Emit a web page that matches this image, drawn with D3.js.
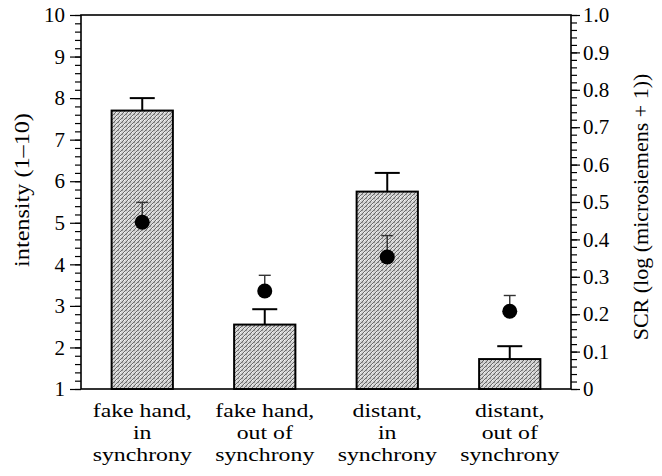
<!DOCTYPE html>
<html>
<head>
<meta charset="utf-8">
<script src="https://cdn.jsdelivr.net/npm/d3@7/dist/d3.min.js"></script>
<style>
  html, body { margin: 0; padding: 0; background: #fff; }
  svg { display: block; }
  text { font-family: "Liberation Serif", "Times New Roman", Times, serif; fill: #000; }
</style>
</head>
<body>
<svg id="chart" width="662" height="476"></svg>
<script>
// ---- data ----
const categories = ["fake hand, in synchrony", "fake hand, out of synchrony", "distant, in synchrony", "distant, out of synchrony"];
const categoryLines = [
  ["fake hand,", "in", "synchrony"],
  ["fake hand,", "out of", "synchrony"],
  ["distant,", "in", "synchrony"],
  ["distant,", "out of", "synchrony"]
];
const intensity = [7.7, 2.55, 5.75, 1.72];
const intensityErr = [0.3, 0.37, 0.45, 0.31];
const scr = [0.446, 0.262, 0.353, 0.208];
const scrErr = [0.053, 0.042, 0.057, 0.042];
const leftTicks = [1, 2, 3, 4, 5, 6, 7, 8, 9, 10];
const rightTicks = [0, 0.1, 0.2, 0.3, 0.4, 0.5, 0.6, 0.7, 0.8, 0.9, 1.0];
const leftTitle = "intensity (1\u201310)";
const rightTitle = "SCR (log (microsiemens + 1))";

// ---- layout ----
const svg = d3.select("#chart");
const L = 81, R = 571, T = 15, B = 389;

const x = d3.scaleBand().domain(categories).range([L, R]).paddingInner(0.5).paddingOuter(0.25);
const yL = d3.scaleLinear().domain([1, 10]).range([B, T]);
const yR = d3.scaleLinear().domain([0, 1]).range([B, T]);

// stippled hatch pattern
const defs = svg.append("defs");
const pat = defs.append("pattern").attr("id", "hatch").attr("patternUnits", "userSpaceOnUse")
  .attr("width", 4).attr("height", 4);
pat.append("rect").attr("width", 4).attr("height", 4).attr("fill", "#d4d4d4");
pat.append("path").attr("d", "M-1,1 L1,-1 M0,4 L4,0 M3,5 L5,3").attr("stroke", "#6a6a6a").attr("stroke-width", 1);
pat.append("rect").attr("x", 0).attr("y", 0).attr("width", 1).attr("height", 1).attr("fill", "#f4f4f4");
pat.append("rect").attr("x", 2).attr("y", 2).attr("width", 1).attr("height", 1).attr("fill", "#9a9a9a");

// minor ticks
const leftMinor = d3.range(1, 10.001, 0.2);
const rightMinor = d3.range(0, 1.0001, 0.02);

const gLm = svg.append("g").attr("transform", `translate(${L},0)`)
  .call(d3.axisLeft(yL).tickValues(leftMinor).tickSize(6).tickSizeOuter(0).tickFormat(""));
const gL = svg.append("g").attr("transform", `translate(${L},0)`)
  .call(d3.axisLeft(yL).tickValues(leftTicks).tickSize(11).tickSizeOuter(0).tickPadding(5));
const gRm = svg.append("g").attr("transform", `translate(${R},0)`)
  .call(d3.axisRight(yR).tickValues(rightMinor).tickSize(6).tickSizeOuter(0).tickFormat(""));
const gR = svg.append("g").attr("transform", `translate(${R},0)`)
  .call(d3.axisRight(yR).tickValues(rightTicks).tickSize(9).tickSizeOuter(0).tickPadding(3)
    .tickFormat(d => d === 0 ? "0" : d3.format(".1f")(d)));

[gLm, gL, gRm, gR].forEach(g => {
  g.attr("font-family", null);
  g.select(".domain").remove();
  g.selectAll(".tick line").attr("stroke", "#000").attr("stroke-width", 1.2);
  g.selectAll("text").attr("font-size", 21).attr("fill", "#000");
});

// bars
svg.append("g").selectAll("rect").data(categories).join("rect")
  .attr("x", d => x(d))
  .attr("y", (d, i) => yL(intensity[i]))
  .attr("width", x.bandwidth())
  .attr("height", (d, i) => yL(1) - yL(intensity[i]))
  .attr("fill", "url(#hatch)")
  .attr("stroke", "#000").attr("stroke-width", 2);

// bar error bars
const be = svg.append("g").attr("stroke", "#000").attr("stroke-width", 2);
categories.forEach((c, i) => {
  const cx = x(c) + x.bandwidth() / 2;
  be.append("line").attr("x1", cx).attr("x2", cx)
    .attr("y1", yL(intensity[i])).attr("y2", yL(intensity[i] + intensityErr[i]));
  be.append("line").attr("x1", cx - 12.5).attr("x2", cx + 12.5)
    .attr("y1", yL(intensity[i] + intensityErr[i])).attr("y2", yL(intensity[i] + intensityErr[i]));
});

// SCR error bars and points
const de = svg.append("g").attr("stroke", "#333").attr("stroke-width", 1.4);
categories.forEach((c, i) => {
  const cx = x(c) + x.bandwidth() / 2;
  de.append("line").attr("x1", cx).attr("x2", cx)
    .attr("y1", yR(scr[i])).attr("y2", yR(scr[i] + scrErr[i]));
  de.append("line").attr("x1", cx - 6).attr("x2", cx + 6)
    .attr("y1", yR(scr[i] + scrErr[i])).attr("y2", yR(scr[i] + scrErr[i]));
});
svg.append("g").selectAll("circle").data(categories).join("circle")
  .attr("cx", d => x(d) + x.bandwidth() / 2)
  .attr("cy", (d, i) => yR(scr[i]))
  .attr("r", 7.5)
  .attr("fill", "#000");

// frame
svg.append("rect").attr("x", L).attr("y", T).attr("width", R - L).attr("height", B - T)
  .attr("fill", "none").attr("stroke", "#000").attr("stroke-width", 1.6);

// category labels (one text per category, lines as tspans)
const cl = svg.append("g");
categories.forEach((c, i) => {
  const cx = x(c) + x.bandwidth() / 2;
  const t = cl.append("text")
    .attr("transform", `translate(${cx},417) scale(1.22,1)`)
    .attr("text-anchor", "middle")
    .attr("font-size", 19.5);
  categoryLines[i].forEach((line, j) => {
    t.append("tspan").attr("x", 0).attr("y", j * 22).text(line);
  });
});

// axis titles
svg.append("text")
  .attr("transform", `translate(29,${(T + B) / 2 - 12}) rotate(-90) scale(1.1,1)`)
  .attr("text-anchor", "middle").attr("font-size", 22)
  .text(leftTitle);
svg.append("text")
  .attr("transform", `translate(648,${(T + B) / 2 + 5}) rotate(-90)`)
  .attr("text-anchor", "middle").attr("font-size", 22)
  .text(rightTitle);
</script>
</body>
</html>
